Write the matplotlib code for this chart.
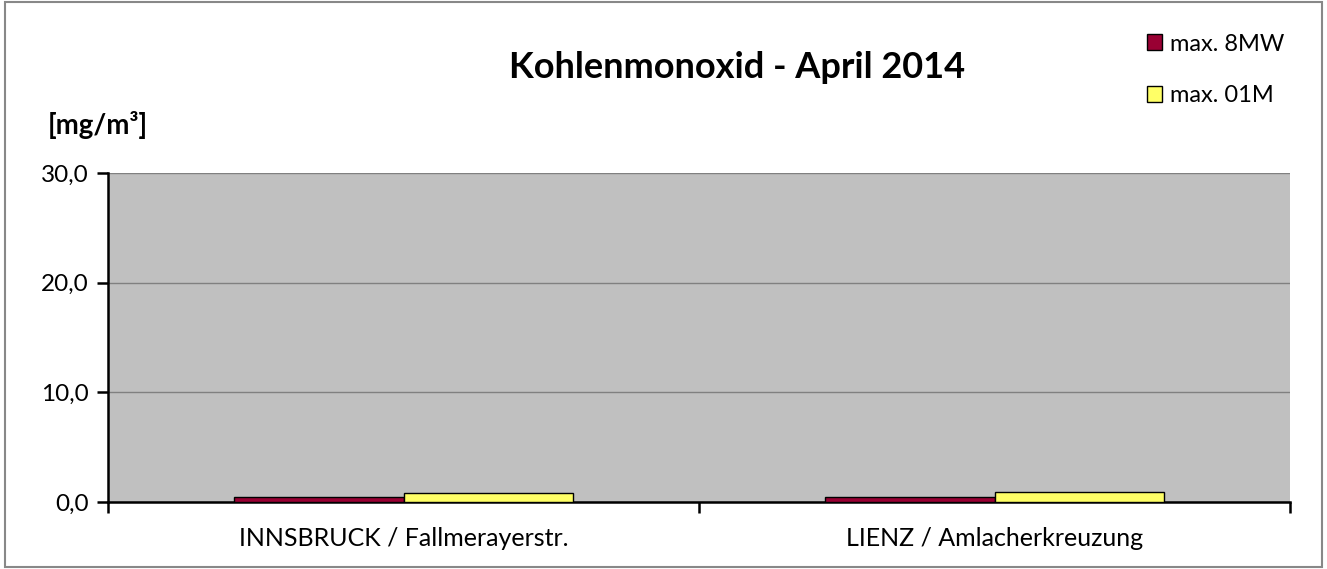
import matplotlib
matplotlib.use("Agg")
import matplotlib.pyplot as plt
from matplotlib.patches import Rectangle
import numpy as np

categories = ["INNSBRUCK / Fallmerayerstr.", "LIENZ / Amlacherkreuzung"]
series_names = ["max. 8MW", "max. 01M"]
max_8mw = [0.5, 0.5]
max_01m = [0.8, 0.9]
colors = ["#990033", "#FFFF66"]
yticks = [0, 10, 20, 30]
yticklabels = ["0,0", "10,0", "20,0", "30,0"]

plt.rcParams['font.family'] = ['Lato', 'DejaVu Sans']

fig = plt.figure(figsize=(13.27, 5.69), dpi=100)
fig.patches.append(Rectangle((0.004, 0.004), 0.992, 0.992, transform=fig.transFigure,
                             fill=False, edgecolor="#888888", linewidth=1.5))
ax = fig.add_axes([108/1327, 67/569, (1290-108)/1327, (502-173)/569])
ax.set_facecolor("#C0C0C0")

x = np.arange(len(categories))
w = 0.286
ax.bar(x - w/2, max_8mw, w, color=colors[0], edgecolor="black", linewidth=1, label=series_names[0], zorder=3)
ax.bar(x + w/2, max_01m, w, color=colors[1], edgecolor="black", linewidth=1, label=series_names[1], zorder=3)

ax.set_xlim(-0.5, len(categories) - 0.5)
ax.set_ylim(0, 30)
ax.set_yticks(yticks)
ax.set_yticklabels(yticklabels, fontsize=17.5)
ax.yaxis.grid(True, color="#808080", linewidth=1)
ax.set_axisbelow(True)

ax.set_xticks(x)
ax.set_xticklabels(categories, fontsize=18)
ax.set_xticks([-0.5, 0.5, 1.5], minor=True)
ax.tick_params(axis="x", which="major", length=0, pad=18)
ax.tick_params(axis="x", which="minor", length=8, width=1.8, direction="out")
ax.tick_params(axis="y", which="major", length=8, width=1.8, direction="out", pad=6)

for s in ["top", "right"]:
    ax.spines[s].set_visible(False)
ax.spines["left"].set_linewidth(1.8)
ax.spines["bottom"].set_linewidth(1.8)

fig.text(737/1327, 1 - 68/569, "Kohlenmonoxid - April 2014", ha="center", va="center",
         fontsize=26, fontweight="bold")
fig.text(48/1327, 1 - 125/569, "[mg/m³]", ha="left", va="center", fontsize=20, fontweight="bold")

leg = fig.legend(loc="upper left", bbox_to_anchor=(1130/1327, 1 - 17/569), frameon=False,
                 fontsize=17, handlelength=0.65, handleheight=0.65, handletextpad=0.35,
                 labelspacing=1.3, borderpad=0.2)

fig.savefig("out.png", dpi=100)
